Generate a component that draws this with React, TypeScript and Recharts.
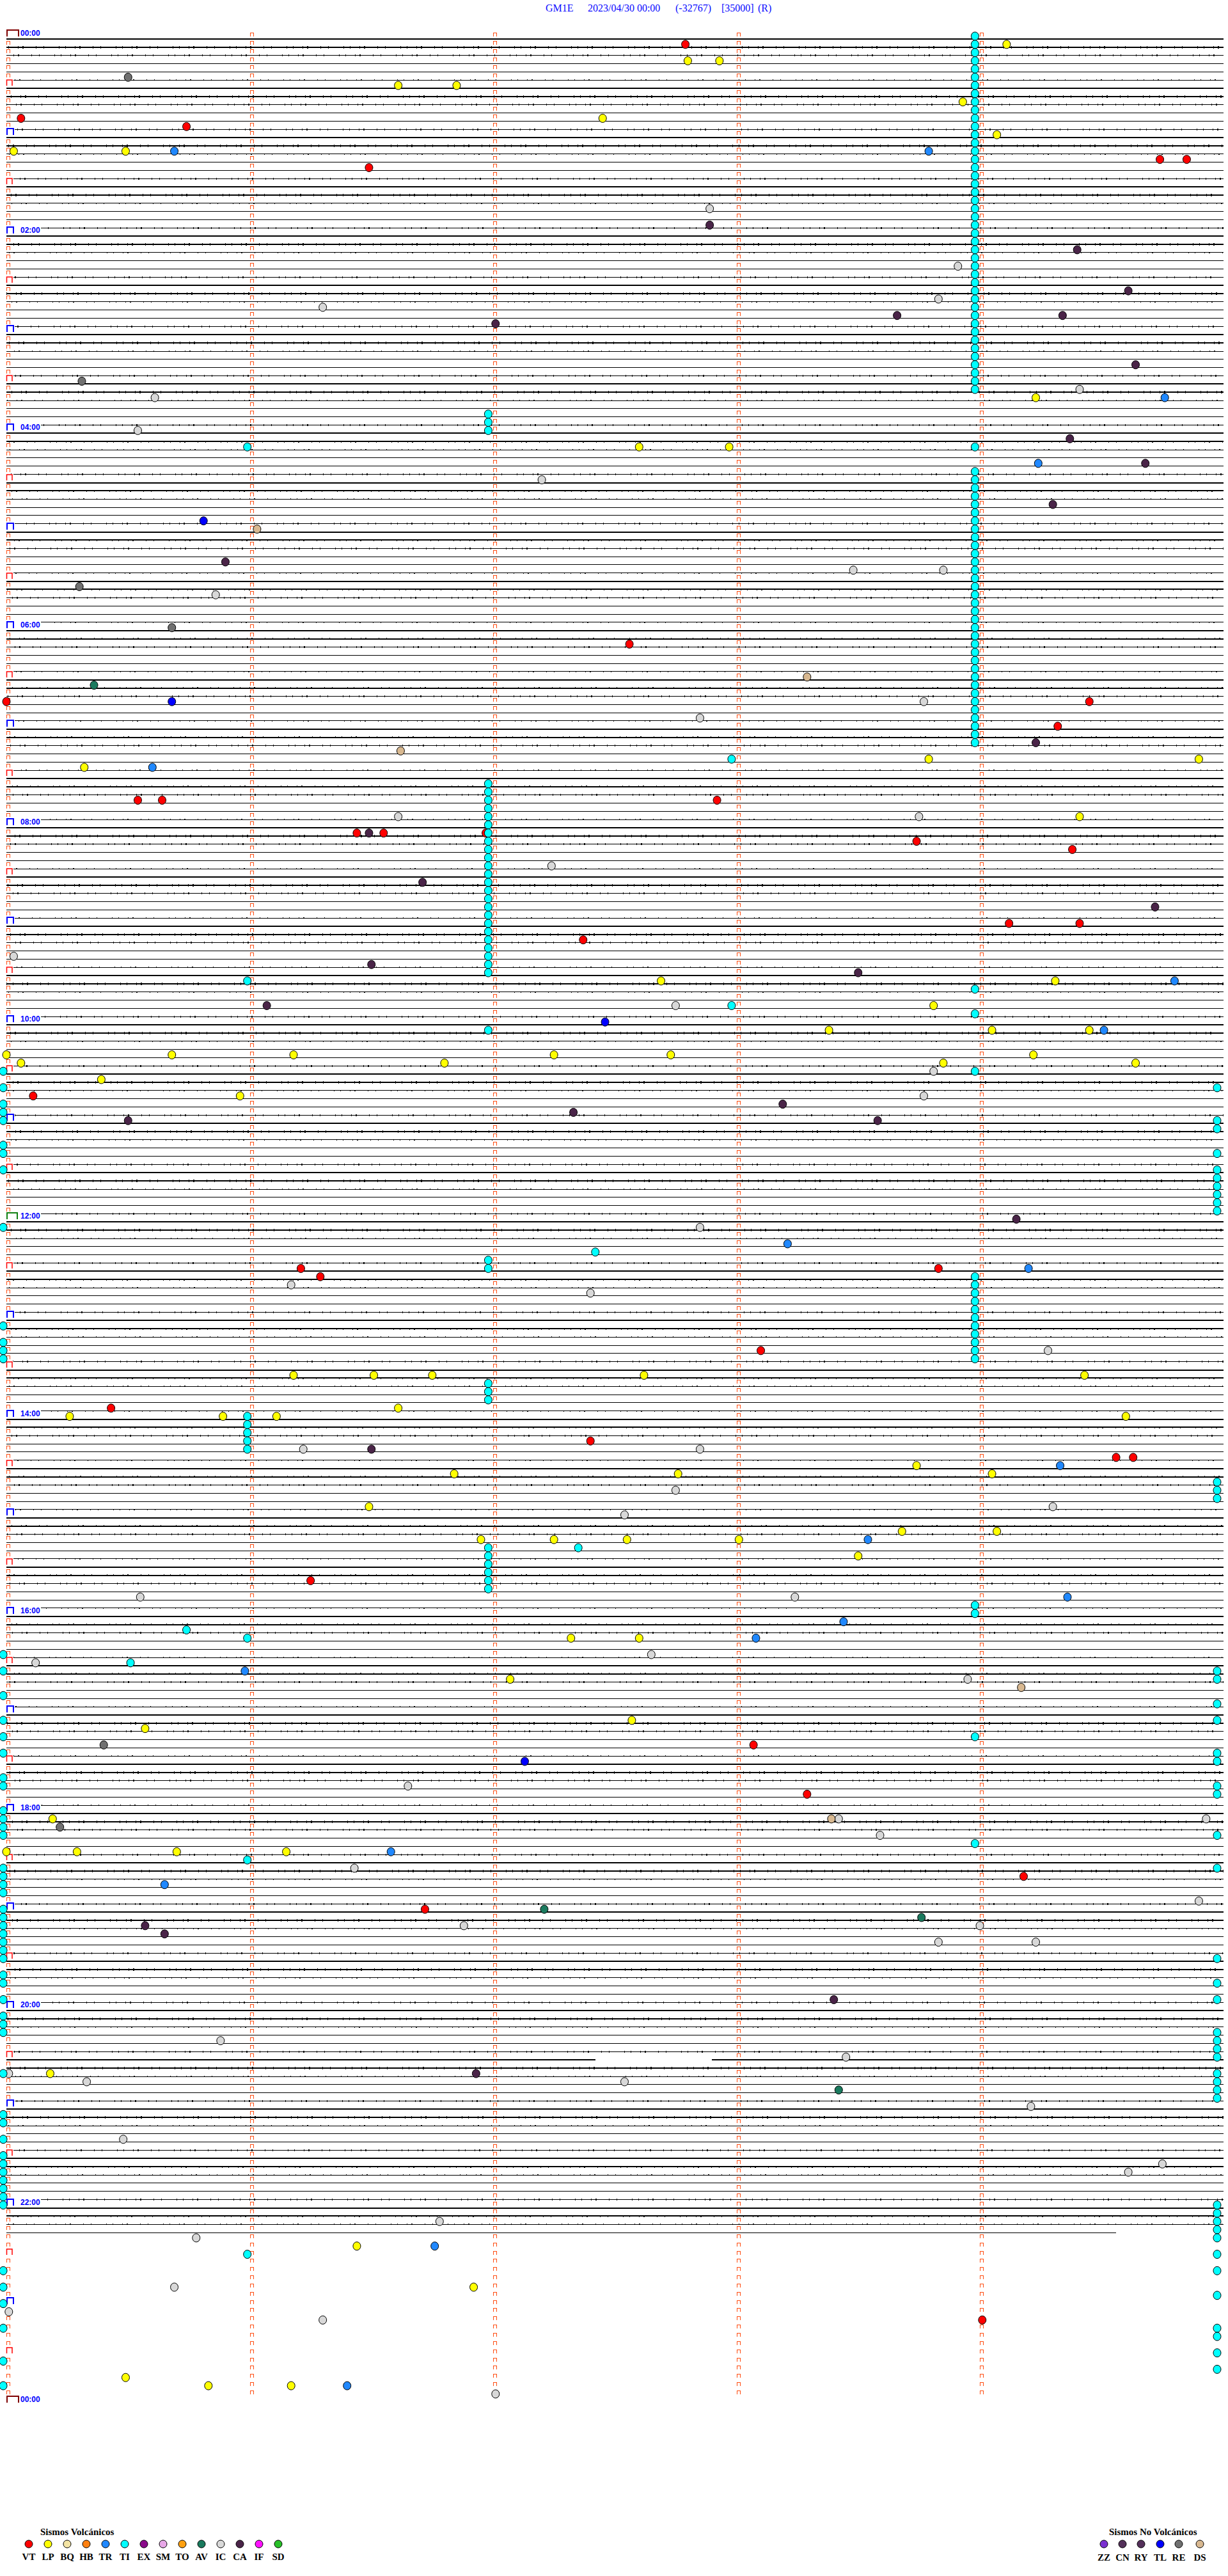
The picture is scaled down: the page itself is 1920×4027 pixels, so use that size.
import React from "react";
import { ScatterChart, Scatter, XAxis, YAxis } from "recharts";

const W = 1920;
const H = 4027;

// helicorder layout: 288 rows of 5 minutes, 00:00 .. 23:55
const ROW_COUNT = 288;
const LAST_TRACE_ROW = 267;
const MINUTE_MARKS = [0, 1, 2, 3, 4];
const HOUR_LABELS = ["00:00", "02:00", "04:00", "06:00", "08:00", "10:00", "12:00", "14:00", "16:00", "18:00", "20:00", "22:00", "00:00"];
const TRACE_BREAKS = [{ row: 246, from: 2.42, to: 2.9 }];
const TRACE_ENDS = [{ row: 267, end: 4.56 }];

// events: [row, minute inside the 5-minute row]
const VT = [[1, 2.79], [10, 0.06], [11, 0.74], [15, 4.74], [15, 4.85], [16, 1.49], [74, 2.56], [81, 0.0], [81, 4.45], [84, 4.32], [93, 0.54], [93, 0.64], [93, 2.92], [97, 1.44], [97, 1.55], [97, 1.97], [98, 3.74], [99, 4.38], [108, 4.12], [108, 4.41], [110, 2.37], [129, 0.11], [150, 1.21], [150, 3.83], [151, 1.29], [160, 3.1], [167, 0.43], [171, 2.4], [173, 4.56], [173, 4.63], [188, 1.25], [208, 3.07], [214, 3.29], [224, 4.18], [228, 1.72], [278, 4.01]];
const LP = [[1, 4.11], [3, 2.8], [3, 2.93], [6, 1.61], [6, 1.85], [8, 3.93], [10, 2.45], [12, 4.07], [14, 0.03], [14, 0.49], [44, 4.23], [50, 2.6], [50, 2.97], [88, 3.79], [88, 4.9], [89, 0.32], [95, 4.41], [115, 2.69], [115, 4.31], [118, 3.81], [121, 3.38], [121, 4.05], [121, 4.45], [124, 0.0], [124, 0.68], [124, 1.18], [124, 2.25], [124, 2.73], [124, 4.22], [125, 0.06], [125, 1.8], [125, 3.85], [125, 4.64], [127, 0.39], [129, 0.96], [163, 1.18], [163, 1.51], [163, 1.75], [163, 2.62], [163, 4.43], [167, 1.61], [168, 0.26], [168, 0.89], [168, 1.11], [168, 4.6], [174, 3.74], [175, 1.84], [175, 2.76], [175, 4.05], [179, 1.49], [182, 3.68], [182, 4.07], [183, 1.95], [183, 2.25], [183, 2.55], [183, 3.01], [185, 3.5], [195, 2.32], [195, 2.6], [200, 2.07], [205, 2.57], [206, 0.57], [217, 0.19], [221, 0.0], [221, 0.29], [221, 0.7], [221, 1.15], [248, 0.18], [269, 1.44], [274, 1.92], [285, 0.49], [286, 0.83], [286, 1.17]];
const TR = [[14, 0.69], [14, 3.79], [44, 4.76], [52, 4.24], [89, 0.6], [115, 4.8], [121, 4.51], [147, 3.21], [150, 4.2], [174, 4.33], [183, 3.54], [190, 4.36], [193, 3.44], [195, 3.08], [199, 0.98], [221, 1.58], [225, 0.65], [269, 1.76], [286, 1.4]];
const IC = [[21, 2.89], [28, 3.91], [32, 3.83], [33, 1.3], [43, 4.41], [44, 0.61], [48, 0.54], [54, 2.2], [65, 3.48], [65, 3.85], [68, 0.86], [81, 3.77], [83, 2.85], [95, 1.61], [95, 3.75], [101, 2.24], [112, 0.03], [118, 2.75], [126, 3.81], [129, 3.77], [145, 2.85], [152, 1.17], [153, 2.4], [160, 4.28], [172, 1.22], [172, 2.85], [177, 2.75], [179, 4.3], [180, 2.54], [190, 0.55], [190, 3.24], [197, 2.65], [198, 0.12], [200, 3.95], [213, 1.65], [217, 3.42], [217, 4.93], [219, 3.59], [223, 1.43], [227, 4.9], [230, 1.88], [230, 4.0], [232, 3.83], [232, 4.23], [244, 0.88], [246, 3.45], [248, 0.01], [249, 0.33], [249, 2.54], [252, 4.21], [256, 0.48], [259, 4.75], [260, 4.61], [266, 1.78], [268, 0.78], [274, 0.69], [277, 0.01], [278, 1.3], [287, 2.01]];
const CA = [[23, 2.89], [26, 4.4], [31, 4.61], [34, 3.66], [34, 4.34], [35, 2.01], [40, 4.64], [49, 4.37], [52, 4.68], [57, 4.3], [64, 0.9], [86, 4.23], [97, 1.49], [103, 1.71], [106, 4.72], [113, 1.5], [114, 3.5], [118, 1.07], [130, 3.19], [131, 2.33], [132, 0.5], [132, 3.58], [144, 4.15], [172, 1.5], [230, 0.57], [231, 0.65], [239, 3.4], [248, 1.93]];
const RE = [[5, 0.5], [42, 0.31], [67, 0.3], [72, 0.68], [208, 0.4], [218, 0.22]];
const DS = [[60, 1.03], [78, 3.29], [87, 1.62], [201, 4.17], [217, 3.39]];
const AV = [[79, 0.36], [228, 2.21], [229, 3.76], [250, 3.42]];
const TL = [[59, 0.81], [81, 0.68], [120, 2.46], [210, 2.13]];
const TI = [[88, 2.98], [118, 2.98], [148, 2.42], [184, 2.35], [194, 0.74], [198, 0.51]];
// TI events stacked in columns: same minute on consecutive rows
const TI_COLUMNS = [
  {
    minute: 3.98,
    rows: [0, 1, 2, 3, 4, 5, 6, 7, 8, 9, 10, 11, 12, 13, 14, 15, 16, 17, 18, 19, 20, 21, 22, 23, 24, 25, 26, 27, 28, 29, 30, 31, 32, 33, 34, 35, 36, 37, 38, 39, 40, 41, 42, 43, 50, 53, 54, 55, 56, 57, 58, 59, 60, 61, 62, 63, 64, 65, 66, 67, 68, 69, 70, 71, 72, 73, 74, 75, 76, 77, 78, 79, 80, 81, 82, 83, 84, 85, 86, 116, 119, 126, 151, 152, 153, 154, 155, 156, 157, 158, 159, 160, 161, 191, 192, 207, 220],
  },
  {
    minute: 1.98,
    rows: [46, 47, 48, 91, 92, 93, 94, 95, 96, 97, 98, 99, 100, 101, 102, 103, 104, 105, 106, 107, 108, 109, 110, 111, 112, 113, 114, 121, 149, 150, 164, 165, 166, 184, 185, 186, 187, 188, 189],
  },
  { minute: 0.99, rows: [50, 115, 168, 169, 170, 171, 172, 195, 222, 270] },
  {
    minute: -0.013,
    rows: [126, 128, 130, 131, 132, 135, 136, 138, 145, 157, 159, 160, 161, 197, 199, 202, 205, 207, 209, 212, 213, 216, 217, 218, 219, 223, 224, 225, 226, 228, 229, 230, 231, 232, 233, 234, 236, 237, 239, 241, 242, 243, 248, 253, 254, 256, 258, 259, 260, 261, 262, 263, 264, 272, 274, 276, 279, 283, 286],
  },
  {
    minute: 4.975,
    rows: [128, 132, 133, 136, 138, 139, 140, 141, 142, 143, 176, 177, 178, 199, 200, 203, 205, 209, 210, 213, 214, 219, 223, 234, 237, 239, 243, 244, 245, 246, 248, 249, 250, 251, 264, 265, 266, 267, 268, 270, 272, 275, 279, 280, 282, 284],
  },
];

const VOLC = [
  { code: "VT", color: "#ff0000" },
  { code: "LP", color: "#ffff00" },
  { code: "BQ", color: "#f3e4a4" },
  { code: "HB", color: "#ff8010" },
  { code: "TR", color: "#2088ff" },
  { code: "TI", color: "#00ffff" },
  { code: "EX", color: "#8a0a8a" },
  { code: "SM", color: "#e8a8e8" },
  { code: "TO", color: "#ffa010" },
  { code: "AV", color: "#1a7a5e" },
  { code: "IC", color: "#d8d8d8" },
  { code: "CA", color: "#4a2448" },
  { code: "IF", color: "#ff10ff" },
  { code: "SD", color: "#28c028" },
];
const NON_VOLC = [
  { code: "ZZ", color: "#7a30d0" },
  { code: "CN", color: "#54305a" },
  { code: "RY", color: "#54305a" },
  { code: "TL", color: "#0000ff" },
  { code: "RE", color: "#707070" },
  { code: "DS", color: "#d8b890" },
];
const colorOf = (c: string) => [...VOLC, ...NON_VOLC].find((t) => t.code === c)!.color;

// the trace look repeats every half hour (6 rows): two heavy rows, noisy rows
const ROW_LOOK = [
  { width: 2, noisy: false },
  { width: 2, noisy: true },
  { width: 1, noisy: true },
  { width: 1, noisy: false },
  { width: 1, noisy: false },
  { width: 1, noisy: true },
];

const pts = (list: number[][]) => list.map(([row, minute]) => ({ x: minute, y: row }));

const EVENT_SERIES = [
  { code: "IC", data: pts(IC) },
  { code: "RE", data: pts(RE) },
  { code: "DS", data: pts(DS) },
  { code: "CA", data: pts(CA) },
  { code: "AV", data: pts(AV) },
  { code: "TL", data: pts(TL) },
  { code: "TR", data: pts(TR) },
  { code: "LP", data: pts(LP) },
  { code: "VT", data: pts(VT) },
  {
    code: "TI",
    data: [...pts(TI), ...TI_COLUMNS.flatMap((c) => c.rows.map((r) => ({ x: c.minute, y: r })))],
  },
];

function traceSegments(row: number) {
  const end = TRACE_ENDS.find((t) => t.row === row)?.end ?? 5;
  const br = TRACE_BREAKS.find((b) => b.row === row);
  if (br) return [[0, br.from], [br.to, end]];
  return [[0, end]];
}

const traces: { key: string; row: number; data: { x: number; y: number }[] }[] = [];
for (let r = 0; r <= LAST_TRACE_ROW; r++) {
  traceSegments(r).forEach(([a, b], k) => {
    traces.push({ key: `t${r}-${k}`, row: r, data: [{ x: a, y: r }, { x: b, y: r }] });
  });
}

const minuteTicks: { x: number; y: number }[] = [];
for (let r = 0; r < ROW_COUNT; r++) {
  for (const m of MINUTE_MARKS) {
    if (m === 0 && r % 6 === 0) continue;
    minuteTicks.push({ x: m, y: r });
  }
}

const rowMarks: { x: number; y: number; kind: string; label?: string }[] = [];
for (let r = 0; r <= ROW_COUNT; r += 6) {
  if (r % 24 === 0) rowMarks.push({ x: 0, y: r, kind: "label", label: HOUR_LABELS[r / 24] });
  else if (r % 12 === 0) rowMarks.push({ x: 0, y: r, kind: "hour" });
  else rowMarks.push({ x: 0, y: r, kind: "half" });
}

const NoShape = () => <g />;

const MinuteTick = (p: any) => {
  const x = Math.round(p.cx) + 0.5;
  const y = Math.round(p.cy);
  return (
    <path
      d={`M${x},${y - 4.5}V${y - 9.5}H${x + 5}V${y - 4.5}`}
      fill="none"
      stroke="#ff4d12"
      strokeWidth={1}
      shapeRendering="crispEdges"
    />
  );
};

const RowMark = (p: any) => {
  const x = Math.round(p.cx);
  const y = Math.round(p.cy);
  const { kind, label } = p.payload;
  if (kind === "half") {
    return (
      <g>
        <rect x={x - 2} y={y - 14} width={13} height={10} fill="#fff" />
        <path d={`M${x + 0.5},${y - 4}V${y - 13}H${x + 9}V${y - 4}`} fill="none" stroke="#ff0000" strokeWidth={1.5} />
      </g>
    );
  }
  let color = "#0000ff";
  let w = 11;
  if (label === "00:00") {
    color = "#800000";
    w = 19;
  } else if (label === "12:00") {
    color = "#108010";
    w = 17;
  }
  return (
    <g>
      <rect x={x - 2} y={y - 15} width={label ? 56 : w + 4} height={11} fill="#fff" />
      <path d={`M${x + 1},${y - 4}V${y - 14}H${x + w}V${y - 4}`} fill="none" stroke={color} strokeWidth={2} />
      {label && (
        <text x={x + 22} y={y - 5} fontSize={12} fontWeight="bold" fill="#0000ff" fontFamily="'Liberation Sans', Arial, sans-serif">
          {label}
        </text>
      )}
    </g>
  );
};

const Dot = (p: any) => (
  <ellipse cx={p.cx} cy={p.cy - 4.5} rx={6} ry={6.5} fill={p.fill} stroke="#000" strokeWidth={1} />
);

const LegendDot = ({ x, y, color }: { x: number; y: number; color: string }) => (
  <circle cx={x} cy={y} r={6} fill={color} stroke="#000" strokeWidth={1} />
);

const layer: React.CSSProperties = { position: "absolute", left: 0, top: 0 };

function Axes() {
  return [
    <XAxis key="x" type="number" dataKey="x" domain={[-0.0263, 5.0197]} hide allowDataOverflow />,
    <YAxis key="y" type="number" dataKey="y" domain={[-4.75, 308.81]} reversed hide allowDataOverflow />,
  ];
}

export default function App() {
  const serif = "'Liberation Serif', 'Times New Roman', serif";
  const nonVolcX = [1726, 1755, 1784, 1814, 1843, 1876];
  const margin = { top: 0, right: 0, bottom: 0, left: 0 };
  return (
    <div style={{ position: "absolute", left: 0, top: 0, width: W, height: H, background: "#fff" }}>
      {/* traces and minute marks underneath */}
      <div style={layer}>
        <ScatterChart width={W} height={H} margin={margin}>
          {Axes()}
          {traces.map((t) => (
            <Scatter
              key={t.key}
              data={t.data}
              line={{ stroke: "#000", strokeWidth: ROW_LOOK[t.row % 6].width, shapeRendering: "crispEdges" } as any}
              shape={NoShape}
              legendType="none"
              isAnimationActive={false}
            />
          ))}
          {traces
            .filter((t) => ROW_LOOK[t.row % 6].noisy)
            .map((t) => (
              <Scatter
                key={`n${t.key}`}
                data={t.data}
                line={{
                  stroke: "#000",
                  strokeWidth: ROW_LOOK[t.row % 6].width + 1.5,
                  strokeDasharray: "1 9 1 14 1 6 2 19 1 11 1 23",
                  strokeDashoffset: (t.row * 7) % 23,
                  shapeRendering: "crispEdges",
                } as any}
                shape={NoShape}
                legendType="none"
                isAnimationActive={false}
              />
            ))}
          <Scatter data={minuteTicks} shape={MinuteTick} legendType="none" isAnimationActive={false} />
        </ScatterChart>
      </div>
      {/* hour marks and event dots on top */}
      <div style={layer}>
        <ScatterChart width={W} height={H} margin={margin}>
          {Axes()}
          <Scatter data={rowMarks} shape={RowMark} legendType="none" isAnimationActive={false} />
          {EVENT_SERIES.map((s) => (
            <Scatter
              key={s.code}
              name={s.code}
              data={s.data}
              fill={colorOf(s.code)}
              shape={Dot}
              isAnimationActive={false}
            />
          ))}
        </ScatterChart>
      </div>
      <svg width={W} height={H} style={{ ...layer, pointerEvents: "none" }}>
        <g fontFamily={serif} fontSize={16} fill="#0a0aff">
          <text x={853} y={18}>GM1E</text>
          <text x={919} y={18}>2023/04/30 00:00</text>
          <text x={1056} y={18}>(-32767)</text>
          <text x={1128} y={18}>[35000]</text>
          <text x={1185} y={18}>(R)</text>
        </g>
        <text x={63} y={3963} fontFamily={serif} fontSize={15} fontWeight="bold">Sismos Volcánicos</text>
        {VOLC.map((t, i) => (
          <g key={t.code}>
            <LegendDot x={45 + 30 * i} y={3977} color={t.color} />
            <text x={45 + 30 * i} y={4002} textAnchor="middle" fontFamily={serif} fontSize={15} fontWeight="bold">
              {t.code}
            </text>
          </g>
        ))}
        <text x={1734} y={3963} fontFamily={serif} fontSize={15} fontWeight="bold">Sismos No Volcánicos</text>
        {NON_VOLC.map((t, i) => (
          <g key={t.code}>
            <LegendDot x={nonVolcX[i]} y={3977} color={t.color} />
            <text x={nonVolcX[i]} y={4003} textAnchor="middle" fontFamily={serif} fontSize={15} fontWeight="bold">
              {t.code}
            </text>
          </g>
        ))}
      </svg>
    </div>
  );
}
